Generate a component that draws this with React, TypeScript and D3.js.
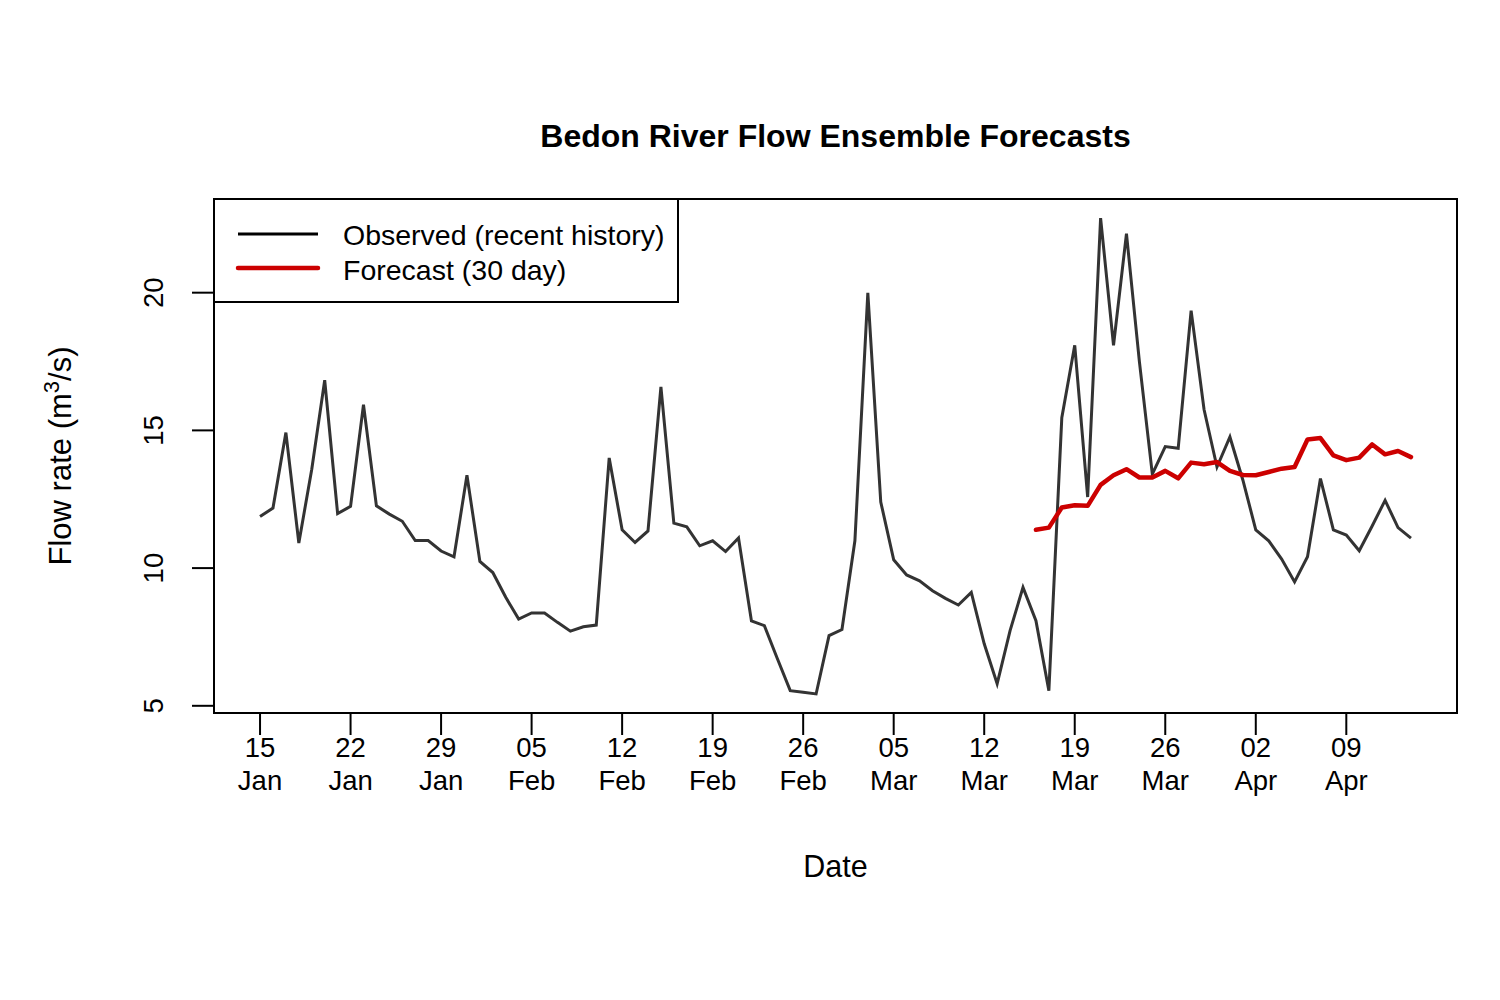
import React from 'react';
import * as d3 from 'd3';

// Observed daily flow, 15 Jan – 14 Apr
const observed = [
  11.87, 12.18, 14.92, 10.91, 13.59, 16.82, 11.98, 12.24, 15.93, 12.26,
  11.96, 11.70, 11.00, 11.00, 10.62, 10.41, 13.37,
  10.24, 9.84, 8.94, 8.15, 8.37, 8.37, 8.03, 7.71, 7.87, 7.93,
  14.00, 11.39, 10.93, 11.35, 16.58, 11.63, 11.50, 10.81, 10.99, 10.60,
  11.09, 8.08, 7.91, 6.72, 5.55, 5.49, 5.43, 7.55,
  7.77, 10.99, 19.99, 12.40, 10.30, 9.75, 9.54, 9.18, 8.90, 8.66,
  9.12, 7.25, 5.80, 7.73, 9.30, 8.09, 5.55, 15.46, 18.09, 12.58,
  22.71, 18.09, 22.14, 17.5, 13.41, 14.41, 14.35, 19.35, 15.76, 13.67, 14.76,
  13.2, 11.39, 10.99, 10.33, 9.50, 10.41, 13.25, 11.39, 11.20, 10.63,
  11.53, 12.46, 11.47, 11.09,
];

// 30 day forecast, 16 Mar – 14 Apr
const forecast = [
  11.39, 11.47, 12.20, 12.28, 12.26, 13.02, 13.37, 13.59, 13.29, 13.29,
  13.53, 13.26, 13.83, 13.77, 13.85, 13.53, 13.38, 13.37, 13.49, 13.61,
  13.67, 14.67, 14.72, 14.09, 13.92, 14.01, 14.49, 14.13, 14.25, 14.03,
];

const yTicks = [5, 10, 15, 20];
const legendLabels = ['Observed (recent history)', 'Forecast (30 day)'];

const startDate = new Date(Date.UTC(2019, 0, 15));
const forecastStart = new Date(Date.UTC(2019, 2, 16));

type Pt = { date: Date; value: number };

const obsData: Pt[] = observed.map((v, i) => ({ date: d3.utcDay.offset(startDate, i), value: v }));
const fcData: Pt[] = forecast.map((v, i) => ({ date: d3.utcDay.offset(forecastStart, i), value: v }));

const font = '"Liberation Sans", Arial, Helvetica, sans-serif';

export default function App() {
  const width = 1500;
  const height = 1000;
  const plot = { left: 214, right: 1457, top: 199, bottom: 713 };

  // R-style 4% padding on both axes
  const [x0, x1] = d3.extent(obsData, d => d.date) as [Date, Date];
  const span = x1.getTime() - x0.getTime();
  const xScale = d3.scaleUtc()
    .domain([new Date(x0.getTime() - span * 0.04), new Date(x1.getTime() + span * 0.04)])
    .range([plot.left, plot.right]);

  const allVals = [...observed, ...forecast];
  const yMin = d3.min(allVals) as number;
  const yMax = d3.max(allVals) as number;
  const yPad = (yMax - yMin) * 0.04;
  const yScale = d3.scaleLinear()
    .domain([yMin - yPad, yMax + yPad])
    .range([plot.bottom, plot.top]);

  const line = d3.line<Pt>()
    .x(d => xScale(d.date))
    .y(d => yScale(d.value));

  const xTicks = d3.utcDay.range(startDate, d3.utcDay.offset(x1, 1), 7);
  const fmtDay = d3.utcFormat('%d');
  const fmtMonth = d3.utcFormat('%b');

  const cx = (plot.left + plot.right) / 2;
  const cy = (plot.top + plot.bottom) / 2;

  return (
    <svg width={width} height={height} style={{ position: 'absolute', left: 0, top: 0, background: '#fff' }}
      fontFamily={font}>
      {/* Title */}
      <text x={cx} y={147} textAnchor="middle" fontSize={32} fontWeight="bold" fill="#000">
        Bedon River Flow Ensemble Forecasts
      </text>

      {/* Series */}
      <path d={line(obsData) ?? ''} fill="none" stroke="#333333" strokeWidth={3} strokeLinejoin="miter" />
      <path d={line(fcData) ?? ''} fill="none" stroke="#cc0000" strokeWidth={4.5} strokeLinejoin="round" strokeLinecap="round" />

      {/* Box */}
      <rect x={plot.left} y={plot.top} width={plot.right - plot.left} height={plot.bottom - plot.top}
        fill="none" stroke="#000" strokeWidth={2} />

      {/* Y axis */}
      {yTicks.map(t => (
        <g key={t}>
          <line x1={plot.left - 22} x2={plot.left} y1={yScale(t)} y2={yScale(t)} stroke="#000" strokeWidth={2} />
          <text transform={`translate(${163},${yScale(t)}) rotate(-90)`} textAnchor="middle" fontSize={27.5} fill="#000">
            {t}
          </text>
        </g>
      ))}
      <text transform={`translate(71,${cy}) rotate(-90)`} textAnchor="middle" fontSize={31} fill="#000">
        Flow rate (m<tspan dy={-12} fontSize={22}>3</tspan><tspan dy={12}>/s)</tspan>
      </text>

      {/* X axis */}
      {xTicks.map(t => (
        <g key={t.getTime()}>
          <line x1={xScale(t)} x2={xScale(t)} y1={plot.bottom} y2={plot.bottom + 22} stroke="#000" strokeWidth={2} />
          <text x={xScale(t)} y={757} textAnchor="middle" fontSize={27.5} fill="#000">{fmtDay(t)}</text>
          <text x={xScale(t)} y={790} textAnchor="middle" fontSize={27.5} fill="#000">{fmtMonth(t)}</text>
        </g>
      ))}
      <text x={cx} y={877} textAnchor="middle" fontSize={30.5} fill="#000">Date</text>

      {/* Legend */}
      <rect x={plot.left} y={plot.top} width={464} height={103} fill="#fff" stroke="#000" strokeWidth={2} />
      <line x1={238} x2={318} y1={234} y2={234} stroke="#000" strokeWidth={3} />
      <line x1={238} x2={318} y1={268} y2={268} stroke="#cc0000" strokeWidth={4.5} strokeLinecap="round" />
      <text x={343} y={245} fontSize={28.5} fill="#000">{legendLabels[0]}</text>
      <text x={343} y={280} fontSize={28.5} fill="#000">{legendLabels[1]}</text>
    </svg>
  );
}
